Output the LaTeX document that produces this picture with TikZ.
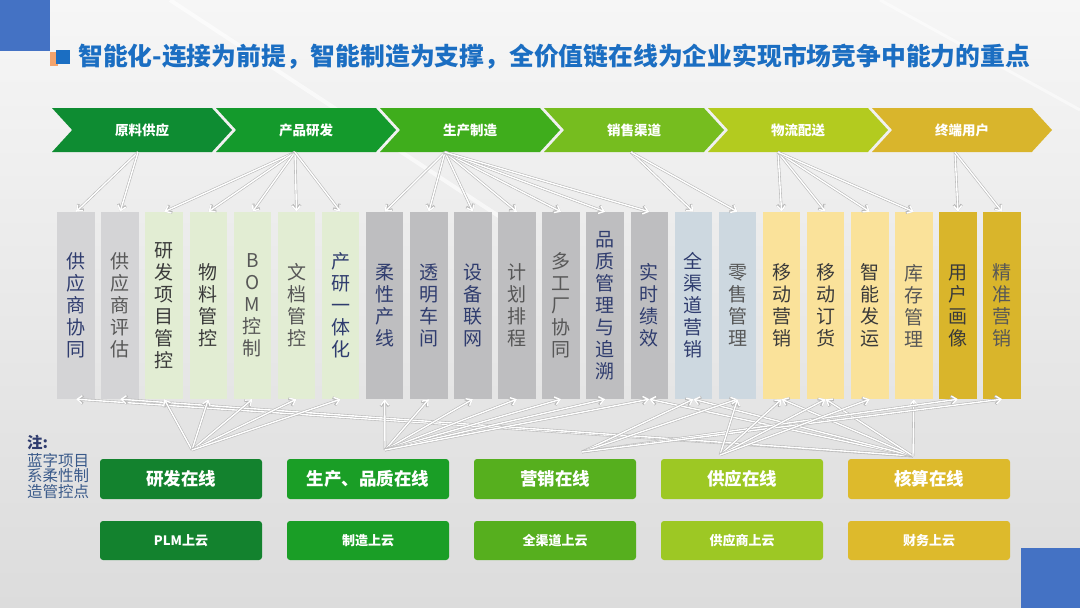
\documentclass[tikz,border=0pt]{standalone}
\usepackage{fontspec}
\setmainfont{Noto Sans CJK SC}
\usetikzlibrary{shapes.symbols,arrows.meta}
\definecolor{bgtop}{HTML}{F6F6F6}
\definecolor{bgbot}{HTML}{DCDCDC}
\definecolor{cornerblue}{HTML}{4472C4}
\definecolor{titleblue}{HTML}{1B6EC2}
\definecolor{bulletorange}{HTML}{F3A36C}
\definecolor{stA}{HTML}{0E8C32}
\definecolor{stB}{HTML}{149A2C}
\definecolor{stC}{HTML}{3FAD1C}
\definecolor{stD}{HTML}{76BD1F}
\definecolor{stE}{HTML}{B3CB1F}
\definecolor{stF}{HTML}{D9B52C}
\definecolor{lgray}{HTML}{D4D4D6}
\definecolor{lgreen}{HTML}{E2EDD3}
\definecolor{dgray}{HTML}{BEBEC0}
\definecolor{lblue}{HTML}{CDD8E0}
\definecolor{lyellow}{HTML}{FAE29A}
\definecolor{gold}{HTML}{D9B52B}
\definecolor{navy}{HTML}{2F3C6E}
\definecolor{greytxt}{HTML}{575757}
\definecolor{darktxt}{HTML}{3A3A3A}
\definecolor{notetxt}{HTML}{3A5A8A}
\definecolor{olA}{HTML}{13822E}
\definecolor{olB}{HTML}{1A9E26}
\definecolor{olC}{HTML}{56AF1E}
\definecolor{olD}{HTML}{9DC824}
\definecolor{olE}{HTML}{DDBA2C}
\tikzset{
  stagebox/.style={signal, signal from=west, signal to=east, signal pointer angle=95,
    minimum width=180pt, minimum height=44pt, inner sep=0pt, text=white,
    font=\fontsize{13.5}{13.5}\selectfont\bfseries},
  colbox/.style={minimum width=37.5pt, minimum height=187pt, inner sep=0pt, align=center,
    font=\fontsize{19}{22}\selectfont},
  onlinebox/.style={rounded corners=3pt, minimum width=162pt, minimum height=40pt, inner sep=0pt,
    text=white, font=\fontsize{17.5}{17.5}\selectfont\bfseries},
  cloudbox/.style={onlinebox, minimum height=39pt, font=\fontsize{13}{13}\selectfont\bfseries},
  flowline/.style={white, line width=1.4pt, -{Straight Barb[length=5pt,width=8pt]},
    preaction={draw=gray!55, line width=2.6pt}}
}
\begin{document}
\begin{tikzpicture}[x=1pt, y=-1pt]
\useasboundingbox (0,0) rectangle (1080,608);
\shade[top color=bgtop, bottom color=bgbot] (0,0) rectangle (1080,608);
\draw[white, line width=4pt, opacity=0.6] (170,0) -- (520,230);
\draw[white, line width=3pt, opacity=0.5] (880,0) -- (1080,110);
\fill[cornerblue] (0,0) rectangle (50,51);
\fill[cornerblue] (1021,548) rectangle (1080,608);
\fill[bulletorange] (50,52) rectangle (58,66);
\fill[titleblue] (56,50) rectangle (70,64);
\node[anchor=west, inner sep=0pt, text=titleblue, font=\fontsize{24.8}{24.8}\selectfont\bfseries] (title) at (78,57)
  {智能化-连接为前提，智能制造为支撑，全价值链在线为企业实现市场竞争中能力的重点};
\foreach \i/\fc/\txt in {1/stA/原料供应, 2/stB/产品研发, 3/stC/生产制造, 4/stD/销售渠道, 5/stE/物流配送, 6/stF/终端用户}{
  \node[stagebox, fill=\fc] (ch\i) at ({142+164*(\i-1)},130) {\txt};
}
\foreach \i/\fc/\tc/\txt in {
  1/lgray/navy/{供\\应\\商\\协\\同},
  2/lgray/greytxt/{供\\应\\商\\评\\估},
  3/lgreen/darktxt/{研\\发\\项\\目\\管\\控},
  4/lgreen/darktxt/{物\\料\\管\\控},
  5/lgreen/greytxt/{B\\O\\M\\控\\制},
  6/lgreen/greytxt/{文\\档\\管\\控},
  7/lgreen/navy/{产\\研\\一\\体\\化},
  8/dgray/navy/{柔\\性\\产\\线},
  9/dgray/navy/{透\\明\\车\\间},
  10/dgray/navy/{设\\备\\联\\网},
  11/dgray/greytxt/{计\\划\\排\\程},
  12/dgray/greytxt/{多\\工\\厂\\协\\同},
  13/dgray/navy/{品\\质\\管\\理\\与\\追\\溯},
  14/dgray/navy/{实\\时\\绩\\效},
  15/lblue/navy/{全\\渠\\道\\营\\销},
  16/lblue/greytxt/{零\\售\\管\\理},
  17/lyellow/darktxt/{移\\动\\营\\销},
  18/lyellow/darktxt/{移\\动\\订\\货},
  19/lyellow/darktxt/{智\\能\\发\\运},
  20/lyellow/greytxt/{库\\存\\管\\理},
  21/gold/darktxt/{用\\户\\画\\像},
  22/gold/greytxt/{精\\准\\营\\销}}{
  \node[colbox, fill=\fc, text=\tc] (c\i) at ({76+44.1*(\i-1)},305.5) {\txt};
}
\foreach \i/\fc/\txt/\ctxt in {1/olA/研发在线/PLM上云, 2/olB/生产、品质在线/制造上云, 3/olC/营销在线/全渠道上云, 4/olD/供应在线/供应商上云, 5/olE/核算在线/财务上云}{
  \node[onlinebox, fill=\fc] (b\i) at ({181+187*(\i-1)},479) {\txt};
  \node[cloudbox, fill=\fc] (p\i) at ({181+187*(\i-1)},540.5) {\ctxt};
}
\node[anchor=north west, inner sep=0pt, align=left, text=notetxt, font=\fontsize{15.5}{15.5}\selectfont] (note) at (27,435)
  {{\bfseries\color{navy}注:}\\[2pt]蓝字项目\\系柔性制\\造管控点};
\foreach \k in {1,2} \draw[flowline] ([xshift=-4pt]ch1.south) -- (c\k.north);
\foreach \k in {3,...,7} \draw[flowline] ([xshift=-11pt]ch2.south) -- (c\k.north);
\foreach \k in {8,...,14} \draw[flowline] ([xshift=-25pt]ch3.south) -- (c\k.north);
\foreach \k in {15,16} \draw[flowline] ([xshift=-3pt]ch4.south) -- (c\k.north);
\foreach \k in {17,...,20} \draw[flowline] ([xshift=-20pt]ch5.south) -- (c\k.north);
\foreach \k in {21,22} \draw[flowline] ([xshift=-7pt]ch6.south) -- (c\k.north);
\coordinate (j1) at (192,450);
\coordinate (j2) at (385,450);
\coordinate (j3) at (582,452);
\coordinate (j4) at (720,455);
\coordinate (j5) at (913,456);
\foreach \k in {1,2,14,15,17,18,20} \draw[flowline] (j5) -- (c\k.south);
\foreach \k in {3,...,7} \draw[flowline] (j1) -- (c\k.south);
\foreach \k in {8,...,14} \draw[flowline] (j2) -- (c\k.south);
\foreach \k in {15,16,21,22} \draw[flowline] (j3) -- (c\k.south);
\foreach \k in {16,...,19} \draw[flowline] (j4) -- (c\k.south);
\end{tikzpicture}
\end{document}
